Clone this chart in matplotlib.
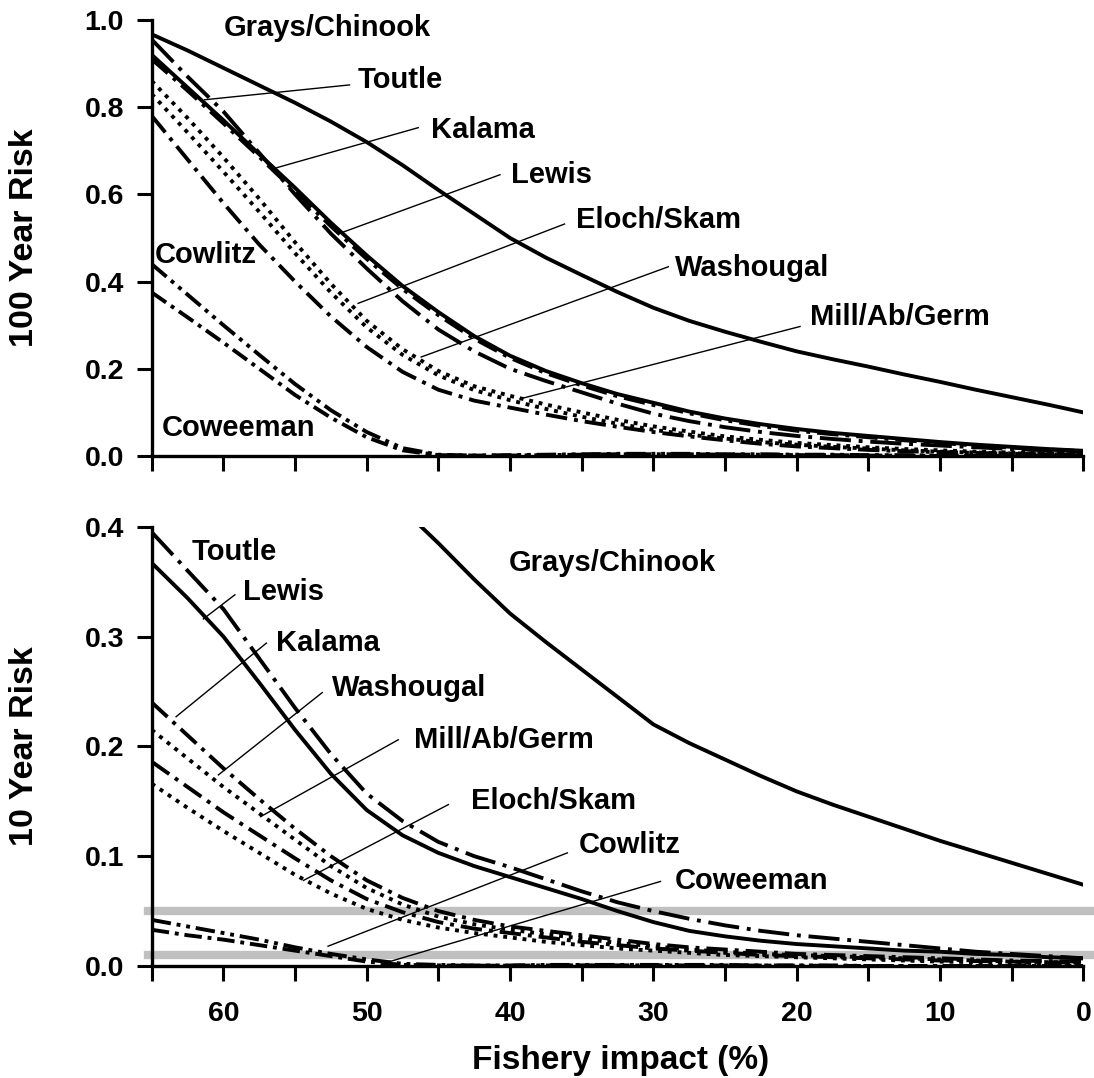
import matplotlib
matplotlib.use("Agg")
import matplotlib.pyplot as plt
from matplotlib.ticker import MultipleLocator, FormatStrFormatter

plt.rcParams['font.family'] = ['Liberation Sans', 'DejaVu Sans']
plt.rcParams['font.weight'] = 'bold'

# fishery impact (%) grid
impact = [65, 62.5, 60, 57.5, 55, 52.5, 50, 47.5, 45, 42.5, 40, 37.5, 35, 32.5,
          30, 27.5, 25, 22.5, 20, 17.5, 15, 12.5, 10, 7.5, 5, 2.5, 0]

# 100 year risk
top_grays = [0.967, 0.93, 0.89, 0.85, 0.81, 0.767, 0.72, 0.667, 0.61, 0.555, 0.50, 0.455, 0.415, 0.376,
             0.34, 0.31, 0.285, 0.262, 0.24, 0.222, 0.205, 0.187, 0.17, 0.152, 0.135, 0.118, 0.10]
top_toutle = [0.955, 0.87, 0.79, 0.695, 0.60, 0.51, 0.43, 0.355, 0.29, 0.24, 0.20, 0.172, 0.146, 0.12,
              0.097, 0.08, 0.066, 0.055, 0.046, 0.039, 0.033, 0.028, 0.024, 0.02, 0.016, 0.013, 0.010]
top_lewis = [0.92, 0.845, 0.77, 0.692, 0.615, 0.535, 0.46, 0.39, 0.33, 0.275, 0.23, 0.195, 0.167, 0.142,
             0.122, 0.102, 0.086, 0.073, 0.062, 0.053, 0.046, 0.039, 0.032, 0.026, 0.021, 0.016, 0.012]
top_kalama = [0.91, 0.838, 0.763, 0.686, 0.607, 0.527, 0.452, 0.383, 0.323, 0.269, 0.225, 0.19, 0.162, 0.137,
              0.117, 0.098, 0.082, 0.069, 0.058, 0.05, 0.043, 0.036, 0.03, 0.024, 0.019, 0.015, 0.011]
top_eloch = [0.86, 0.775, 0.685, 0.59, 0.49, 0.395, 0.31, 0.245, 0.195, 0.16, 0.138, 0.118, 0.10, 0.083,
             0.068, 0.056, 0.045, 0.037, 0.03, 0.025, 0.02, 0.016, 0.013, 0.01, 0.008, 0.006, 0.005]
top_washougal = [0.83, 0.742, 0.652, 0.56, 0.465, 0.375, 0.295, 0.232, 0.185, 0.151, 0.128, 0.108, 0.09, 0.074,
                 0.06, 0.049, 0.04, 0.032, 0.026, 0.021, 0.017, 0.013, 0.01, 0.008, 0.006, 0.005, 0.004]
top_mill = [0.78, 0.68, 0.58, 0.485, 0.40, 0.32, 0.25, 0.193, 0.152, 0.127, 0.111, 0.095, 0.08, 0.067,
            0.055, 0.045, 0.036, 0.028, 0.022, 0.018, 0.014, 0.011, 0.009, 0.007, 0.005, 0.004, 0.003]
top_cowlitz = [0.44, 0.37, 0.30, 0.232, 0.165, 0.105, 0.055, 0.018, 0.003, 0.001, 0.002, 0.003, 0.004, 0.005,
               0.005, 0.005, 0.004, 0.004, 0.003, 0.003, 0.002, 0.002, 0.001, 0.001, 0.0, 0.0, 0.0]
top_coweeman = [0.375, 0.318, 0.26, 0.20, 0.14, 0.088, 0.043, 0.013, 0.002, 0.001, 0.001, 0.002, 0.003, 0.004,
                0.004, 0.004, 0.003, 0.003, 0.002, 0.002, 0.001, 0.001, 0.0, 0.0, 0.0, 0.0, 0.0]

# 10 year risk
grays_impact = [47, 45, 42.5, 40, 37.5, 35, 32.5, 30, 27.5, 25, 22.5, 20, 17.5, 15, 12.5, 10, 7.5, 5, 2.5, 0]
bot_grays = [0.41, 0.385, 0.352, 0.321, 0.295, 0.27, 0.245, 0.22, 0.203, 0.188, 0.173, 0.159, 0.147,
             0.136, 0.125, 0.114, 0.104, 0.094, 0.084, 0.074]
bot_toutle = [0.395, 0.36, 0.325, 0.28, 0.235, 0.193, 0.157, 0.132, 0.113, 0.10, 0.09, 0.079, 0.068, 0.058,
              0.05, 0.043, 0.037, 0.032, 0.028, 0.025, 0.022, 0.019, 0.016, 0.013, 0.011, 0.009, 0.007]
bot_lewis = [0.367, 0.335, 0.30, 0.258, 0.215, 0.175, 0.142, 0.119, 0.103, 0.091, 0.081, 0.071, 0.061, 0.05,
             0.04, 0.032, 0.027, 0.023, 0.02, 0.018, 0.016, 0.014, 0.013, 0.011, 0.01, 0.008, 0.007]
bot_kalama = [0.24, 0.21, 0.18, 0.152, 0.125, 0.10, 0.078, 0.062, 0.05, 0.042, 0.036, 0.032, 0.028, 0.024,
              0.02, 0.017, 0.015, 0.013, 0.011, 0.01, 0.009, 0.008, 0.007, 0.006, 0.005, 0.0045, 0.004]
bot_washougal = [0.215, 0.189, 0.163, 0.139, 0.115, 0.091, 0.071, 0.056, 0.045, 0.038, 0.033, 0.029, 0.025, 0.021,
                 0.018, 0.015, 0.013, 0.011, 0.01, 0.009, 0.008, 0.007, 0.006, 0.005, 0.004, 0.0035, 0.003]
bot_mill = [0.186, 0.163, 0.14, 0.119, 0.098, 0.078, 0.061, 0.049, 0.04, 0.034, 0.03, 0.026, 0.022, 0.019,
            0.016, 0.014, 0.012, 0.01, 0.009, 0.008, 0.007, 0.006, 0.005, 0.0045, 0.004, 0.0035, 0.003]
bot_eloch = [0.166, 0.144, 0.123, 0.103, 0.083, 0.066, 0.052, 0.042, 0.035, 0.03, 0.026, 0.022, 0.019, 0.016,
             0.014, 0.012, 0.01, 0.009, 0.008, 0.007, 0.006, 0.005, 0.004, 0.0035, 0.003, 0.0025, 0.002]
bot_cowlitz = [0.042, 0.036, 0.03, 0.024, 0.017, 0.011, 0.006, 0.002, 0.001, 0.0005, 0.0005, 0.001, 0.001, 0.001,
               0.001, 0.001, 0.001, 0.0005, 0.0005, 0.0005, 0.0, 0.0, 0.0, 0.0, 0.0, 0.0, 0.0]
bot_coweeman = [0.033, 0.028, 0.024, 0.019, 0.014, 0.009, 0.004, 0.001, 0.0005, 0.0003, 0.0003, 0.0005, 0.0006,
                0.0006, 0.0006, 0.0005, 0.0005, 0.0004, 0.0003, 0.0002, 0.0, 0.0, 0.0, 0.0, 0.0, 0.0, 0.0]

thresholds = [0.05, 0.01]

# label text position, leader start, leader end (data coords)
top_labels = [
    ("Grays/Chinook", (60.0, 0.982), None, None),
    ("Toutle", (50.6, 0.862), (51.2, 0.851), (61.3, 0.817)),
    ("Kalama", (45.5, 0.748), (46.4, 0.753), (56.4, 0.660)),
    ("Lewis", (39.9, 0.645), (40.7, 0.645), (51.6, 0.514)),
    ("Eloch/Skam", (35.4, 0.541), (36.2, 0.532), (50.6, 0.350)),
    ("Washougal", (28.5, 0.431), (28.95, 0.434), (46.2, 0.227)),
    ("Mill/Ab/Germ", (19.1, 0.319), (19.76, 0.297), (39.3, 0.131)),
    ("Cowlitz", (64.8, 0.461), None, None),
    ("Coweeman", (64.3, 0.064), None, None),
]
bot_labels = [
    ("Grays/Chinook", (40.1, 0.367), None, None),
    ("Toutle", (62.2, 0.377), None, None),
    ("Lewis", (58.6, 0.341), (59.2, 0.338), (61.4, 0.316)),
    ("Kalama", (56.3, 0.294), (57.0, 0.294), (63.3, 0.227)),
    ("Washougal", (52.4, 0.253), (53.1, 0.249), (60.35, 0.174)),
    ("Mill/Ab/Germ", (46.7, 0.206), (47.8, 0.206), (57.4, 0.136)),
    ("Eloch/Skam", (42.7, 0.150), (44.3, 0.147), (54.4, 0.078)),
    ("Cowlitz", (35.2, 0.110), (36.0, 0.103), (52.7, 0.018)),
    ("Coweeman", (28.5, 0.077), (29.5, 0.077), (48.4, 0.004)),
]

LW = 2.8
solid = '-'
dotted = (0, (1, 1.5))
dashdot = (0, (5.5, 1.8, 1, 1.8))
longdashdot = (0, (8, 2, 1, 2))
dashdotdot = (0, (5, 1.5, 1, 1.5, 1, 1.5))
shortdashdot = (0, (4.5, 1.5, 1, 1.5))

fig = plt.figure(figsize=(10.94, 10.78), dpi=100)
ax1 = fig.add_axes([0.1387, 0.5770, 0.8515, 0.4045])
ax2 = fig.add_axes([0.1387, 0.1039, 0.8515, 0.4075])

top_series = [
    (top_grays, solid), (top_toutle, longdashdot), (top_lewis, solid),
    (top_kalama, dashdot), (top_eloch, dotted), (top_washougal, dotted),
    (top_mill, dashdot), (top_cowlitz, dashdotdot), (top_coweeman, shortdashdot),
]
for vals, ls in top_series:
    ax1.plot(impact, vals, color='black', lw=LW, linestyle=ls)

ax2.plot(grays_impact, bot_grays, color='black', lw=LW, linestyle=solid)
bot_series = [
    (bot_toutle, longdashdot), (bot_lewis, solid), (bot_kalama, dashdot),
    (bot_washougal, dotted), (bot_mill, dashdot), (bot_eloch, dotted),
    (bot_cowlitz, dashdotdot), (bot_coweeman, shortdashdot),
]
for vals, ls in bot_series:
    ax2.plot(impact, vals, color='black', lw=LW, linestyle=ls)

for t in thresholds:
    ax2.axhline(t, xmin=-0.004, xmax=1.009, color='#c0c0c0', lw=6, zorder=0.5, clip_on=False)

for ax, labels in ((ax1, top_labels), (ax2, bot_labels)):
    for text, pos, p0, p1 in labels:
        ax.text(pos[0], pos[1], text, fontsize=21, fontweight='bold', ha='left', va='center')
        if p0 is not None:
            ax.plot([p0[0], p1[0]], [p0[1], p1[1]], color='black', lw=1.0)

ax1.set_ylim(0, 1.0)
ax2.set_ylim(0, 0.4)
ax1.yaxis.set_major_locator(MultipleLocator(0.2))
ax2.yaxis.set_major_locator(MultipleLocator(0.1))

for ax in (ax1, ax2):
    ax.set_xlim(65, 0)
    ax.xaxis.set_major_locator(MultipleLocator(10))
    ax.xaxis.set_minor_locator(MultipleLocator(5))
    ax.yaxis.set_major_formatter(FormatStrFormatter('%.1f'))
    for s in ('top', 'right'):
        ax.spines[s].set_visible(False)
    for s in ('left', 'bottom'):
        ax.spines[s].set_linewidth(2.4)
    ax.tick_params(axis='both', which='both', direction='out', length=11, width=2.2,
                   labelsize=20.5)
    ax.tick_params(axis='x', which='major', pad=14)
    ax.tick_params(axis='y', pad=9)
    for lab in ax.get_xticklabels() + ax.get_yticklabels():
        lab.set_fontweight('bold')

ax1.tick_params(axis='x', labelbottom=False)

ax1.set_ylabel('100 Year Risk', fontsize=24.5, fontweight='bold')
ax2.set_ylabel('10 Year Risk', fontsize=24.5, fontweight='bold')
ax1.yaxis.set_label_coords(-0.12, 0.5)
ax2.yaxis.set_label_coords(-0.12, 0.5)
ax2.set_xlabel('Fishery impact (%)', fontsize=24, fontweight='bold')
ax2.xaxis.set_label_coords(0.503, -0.18)

fig.savefig('out.png', dpi=100)
